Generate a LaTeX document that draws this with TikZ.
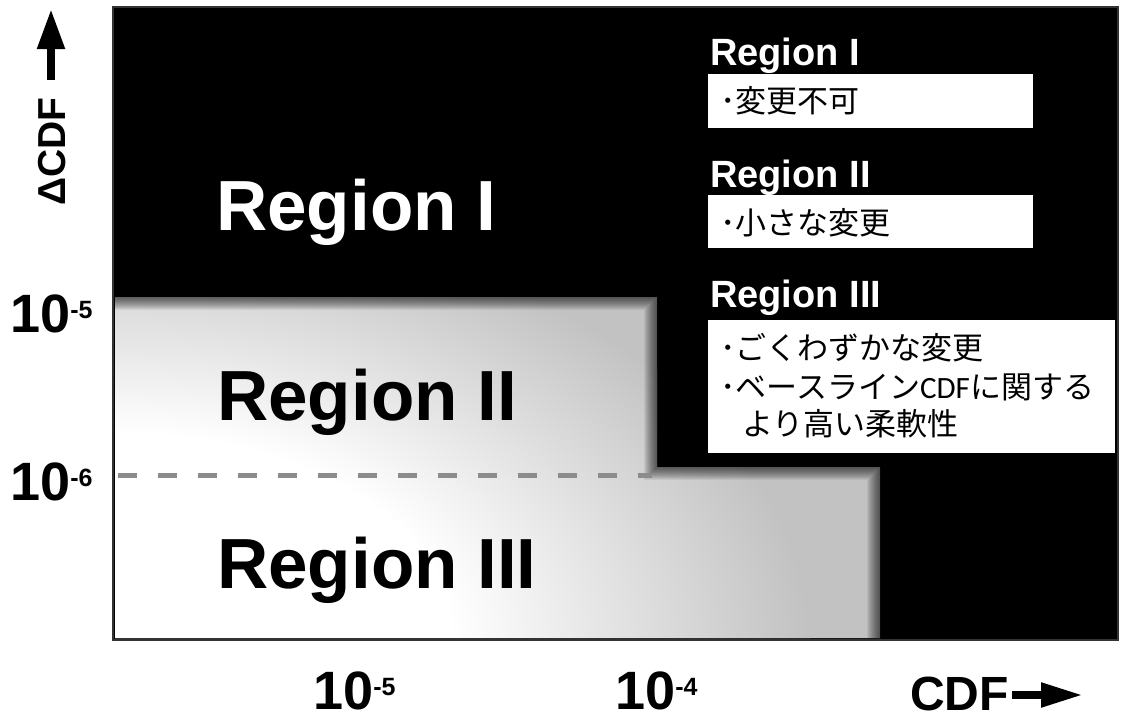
\documentclass[tikz,border=0pt]{standalone}
\usepackage{fontspec}
\setmainfont{Liberation Sans}
\newfontfamily\jpfont{Noto Sans CJK JP}
\newfontfamily\carl{Carlito}
\usetikzlibrary{arrows.meta}
\definecolor{rgngray}{gray}{0.76}
\definecolor{dashgray}{gray}{0.55}
\definecolor{framegray}{gray}{0.2}
\pgfdeclareradialshading{glow}{\pgfpoint{0bp}{0bp}}{color(0bp)=(white); color(12bp)=(white); color(25bp)=(rgngray); color(50bp)=(rgngray)}
\tikzset{
  big/.style={font=\fontsize{71}{80}\selectfont\bfseries, inner sep=0pt, anchor=base west},
  head/.style={font=\fontsize{38}{44}\selectfont\bfseries, text=white, inner sep=0pt, anchor=base west},
  tick/.style={font=\fontsize{54}{60}\selectfont\bfseries, inner sep=0pt, anchor=base west},
  wbox/.style={fill=white, draw=none, inner sep=0pt, anchor=north west},
  jtext/.style={font=\fontsize{31}{38}\selectfont\jpfont, inner sep=0pt, anchor=base west},
  axarrow/.style={line width=8pt, -{Triangle[length=40pt,width=26pt]}},
}
\newcommand{\sexp}[1]{\raisebox{14pt}{\fontsize{25}{28}\selectfont #1}}
\begin{document}
\begin{tikzpicture}[x=1pt,y=-1pt]
\useasboundingbox (0,0) rectangle (1133,720);
% black background
\fill[black] (113,7) rectangle (1118,640);
% regions II and III
\begin{scope}
\clip (115,297) -- (657,297) -- (657,467) -- (880,467) -- (880,638) -- (115,638) -- cycle;
\fill[rgngray] (110,290) rectangle (890,645);
\shade[shading=glow] (120,640) ellipse (690 and 430);
\end{scope}
% blurred edges
\foreach \w in {2,4,...,26}{
  \draw[black, opacity=0.06, line width=\w pt, line join=miter]
    (115,297) -- (657,297) -- (657,467) -- (880,467) -- (880,638);
}
% frame
\draw[framegray, line width=2.5pt] (113,7) rectangle (1118,640);
% dashed line at 10^-6
\coordinate (d1) at (118,475);
\coordinate (d2) at (652,475);
\draw[dashgray, line width=5pt, dash pattern=on 19pt off 21pt] (d1) -- (d2);
% big region labels
\node[big, text=white] (r1) at (216,230) {Region I};
\node[big] (r2) at (217,420) {Region II};
\node[big] (r3) at (217,588) {Region III};
% right-hand legend
\node[head] (h1) at (710,65) {Region I};
\node[wbox, minimum width=325pt, minimum height=54pt] (b1) at (708,74) {};
\node[jtext] (t1) at (720,112) {･変更不可};
\node[head] (h2) at (710,187) {Region II};
\node[wbox, minimum width=325pt, minimum height=53pt] (b2) at (708,195) {};
\node[jtext] (t2) at (720,234) {･小さな変更};
\node[head] (h3) at (710,307) {Region III};
\node[wbox, minimum width=407pt, minimum height=133pt] (b3) at (708,320) {};
\node[jtext] (t3a) at (720,359) {･ごくわずかな変更};
\node[jtext] (t3b) at (720,398) {･ベースライン{\carl CDF}に関する};
\node[jtext] (t3c) at (742,435) {より高い柔軟性};
% axis tick labels
\node[tick] (y5) at (10,332) {10\sexp{-5}};
\node[tick] (y6) at (10,500) {10\sexp{-6}};
\node[tick] (x5) at (313,709) {10\sexp{-5}};
\node[tick] (x4) at (615,709) {10\sexp{-4}};
% axis titles
\node[font=\fontsize{39}{44}\selectfont\bfseries, rotate=90, inner sep=0pt, anchor=base west] (ylab) at (65,206) {ΔCDF};
\coordinate (ya) at (51,80);
\coordinate (yb) at (51,9);
\draw[axarrow] (ya) -- (yb);
\node[font=\fontsize{48}{54}\selectfont\bfseries, inner sep=0pt, anchor=base west] (xlab) at (910,710) {CDF};
\coordinate (xa) at (1012,695);
\coordinate (xb) at (1083,695);
\draw[line width=8pt, -{Triangle[length=42pt,width=23pt]}] (xa) -- (xb);
\end{tikzpicture}
\end{document}
